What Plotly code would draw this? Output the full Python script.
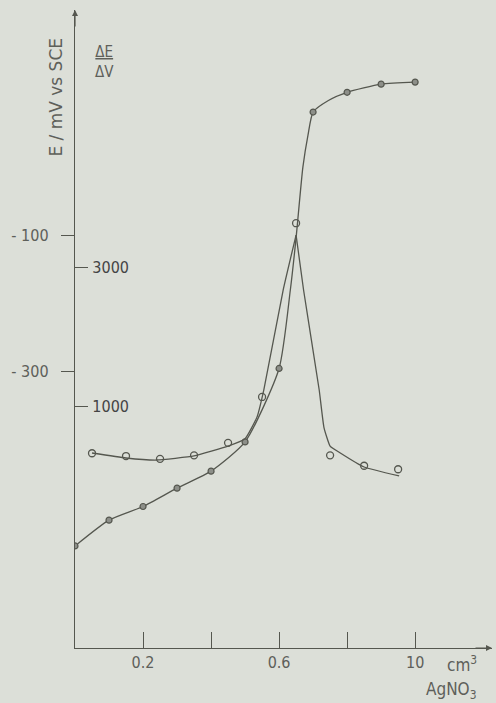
import plotly.graph_objects as go

# Paleta (papel escaneado)
COLOR_FONDO = "#dcdfd8"
COLOR_TINTA = "#55574f"
COLOR_TEXTO = "#5e605a"
FUENTE = "DejaVu Sans Condensed, DejaVu Sans, sans-serif"

# --- Potencial E (puntos llenos) ---
vol_e = [0.0, 0.1, 0.2, 0.3, 0.4, 0.5, 0.6, 0.7, 0.8, 0.9, 1.0]
pot_e = [-557, -519, -499, -472, -447, -404, -296, 81, 110, 122, 125]

# curva trazada a mano para E
curva_e_x = [0.0, 0.1, 0.2, 0.3, 0.4, 0.5, 0.6, 0.633, 0.65, 0.67, 0.685,
             0.7, 0.745, 0.8, 0.9, 1.0]
curva_e_y = [-557, -519, -499, -472, -447, -404, -296, -181, -104, 0, 47,
             81, 98, 110, 122, 125]

# --- Derivada dE/dV (puntos abiertos) ---
vol_d = [0.05, 0.15, 0.25, 0.35, 0.45, 0.55, 0.65, 0.75, 0.85, 0.95]
der_d = [320, 280, 240, 290, 470, 1130, 3630, 290, 140, 90]

# curva trazada a mano para dE/dV (pico en forma de cúspide)
curva_d_x = [0.05, 0.15, 0.24, 0.35, 0.45, 0.5, 0.535, 0.555, 0.612, 0.65,
             0.672, 0.718, 0.732, 0.75, 0.78, 0.85, 0.953]
curva_d_y = [324, 252, 223, 281, 424, 530, 840, 1230, 2669, 3460,
             2669, 1230, 690, 424, 324, 122, -7]

# ticks
ticks_x = [0.2, 0.4, 0.6, 0.8, 1.0]
ticks_x_txt = ["0.2", "", "0.6", "", "10"]
ticks_e = [-100, -300]
ticks_e_txt = ["- 100  ", "- 300  "]
ticks_d = [3000, 1000]
ticks_d_txt = [" 3000", " 1000"]

RANGO_X = [0, 1.226]
RANGO_E = [-707, 231]
RANGO_D = [-2482, 6698]

fig = go.Figure()

linea_e = dict(color=COLOR_TINTA, width=1.3, shape="spline", smoothing=0.6)
linea_d = dict(color=COLOR_TINTA, width=1.3, shape="spline", smoothing=0.4)

fig.add_trace(go.Scatter(
    x=curva_e_x, y=curva_e_y, mode="lines", line=linea_e,
    hoverinfo="skip", showlegend=False,
))

pico = curva_d_y.index(max(curva_d_y))
fig.add_trace(go.Scatter(
    x=curva_d_x[:pico + 1], y=curva_d_y[:pico + 1], mode="lines", line=linea_d,
    yaxis="y2", hoverinfo="skip", showlegend=False,
))
fig.add_trace(go.Scatter(
    x=curva_d_x[pico:], y=curva_d_y[pico:], mode="lines", line=linea_d,
    yaxis="y2", hoverinfo="skip", showlegend=False,
))

fig.add_trace(go.Scatter(
    x=vol_e, y=pot_e, mode="markers", name="E",
    marker=dict(size=6, color="#8d8f89", line=dict(width=1.2, color=COLOR_TINTA)),
    showlegend=False,
))
fig.add_trace(go.Scatter(
    x=vol_d, y=der_d, mode="markers", name="ΔE/ΔV", yaxis="y2",
    marker=dict(size=7, symbol="circle-open", color=COLOR_TINTA, line=dict(width=1.3)),
    showlegend=False,
))

# --- textos ---
fig.add_annotation(
    x=-0.046, y=0.864, xref="paper", yref="paper", text="E / mV vs SCE",
    textangle=-90, xanchor="center", yanchor="middle", showarrow=False,
    font=dict(size=17, color=COLOR_TEXTO, family="DejaVu Sans, sans-serif"),
)
fig.add_annotation(
    x=0.07, y=0.918, xref="paper", yref="paper", text="<u>ΔE</u><br>ΔV",
    xanchor="center", yanchor="middle", showarrow=False,
    font=dict(size=15, color=COLOR_TEXTO, family=FUENTE),
)
fig.add_annotation(
    x=1.138, y=-0.025, xref="x", yref="paper", text="cm<sup>3</sup>",
    yanchor="middle", xanchor="center", showarrow=False,
    font=dict(size=17, color=COLOR_TEXTO, family=FUENTE),
)
fig.add_annotation(
    x=1.106, y=-0.066, xref="x", yref="paper", text="AgNO<sub>3</sub>",
    yanchor="middle", xanchor="center", showarrow=False,
    font=dict(size=17, color=COLOR_TEXTO, family=FUENTE),
)

# flechas de los ejes
fig.add_annotation(
    x=0, y=1.0, xref="x", yref="paper", ax=0, ay=18, text="",
    showarrow=True, arrowhead=2, arrowsize=1, arrowwidth=1.2, arrowcolor=COLOR_TINTA,
)
fig.add_annotation(
    x=1.0, y=0, xref="paper", yref="paper", ax=-18, ay=0, text="",
    showarrow=True, arrowhead=2, arrowsize=1, arrowwidth=1.2, arrowcolor=COLOR_TINTA,
)

fig.update_layout(
    template="none",
    width=496,
    height=703,
    margin=dict(l=75, r=4, t=10, b=55),
    paper_bgcolor=COLOR_FONDO,
    plot_bgcolor=COLOR_FONDO,
    font=dict(family=FUENTE, size=16, color=COLOR_TEXTO),
    showlegend=False,
    xaxis=dict(
        range=RANGO_X, showgrid=False, zeroline=False,
        showline=True, linecolor=COLOR_TINTA, linewidth=1.2,
        ticks="inside", ticklen=16, tickwidth=1.2, tickcolor=COLOR_TINTA,
        tickvals=ticks_x, ticktext=ticks_x_txt, automargin=False,
    ),
    yaxis=dict(
        range=RANGO_E, showgrid=False, zeroline=False,
        showline=True, linecolor=COLOR_TINTA, linewidth=1.2,
        ticks="outside", ticklen=13, tickwidth=1.2, tickcolor=COLOR_TINTA,
        tickvals=ticks_e, ticktext=ticks_e_txt, automargin=False,
    ),
    yaxis2=dict(
        range=RANGO_D, overlaying="y", side="left", anchor="x",
        showgrid=False, zeroline=False, showline=False,
        ticks="inside", ticklen=13, tickwidth=1.2, tickcolor=COLOR_TINTA,
        ticklabelposition="inside",
        tickvals=ticks_d, ticktext=ticks_d_txt, automargin=False,
    ),
)

fig.write_html(
    "out.html",
    config={"displayModeBar": False},
    post_script="document.body.style.margin = '0px';",
)
